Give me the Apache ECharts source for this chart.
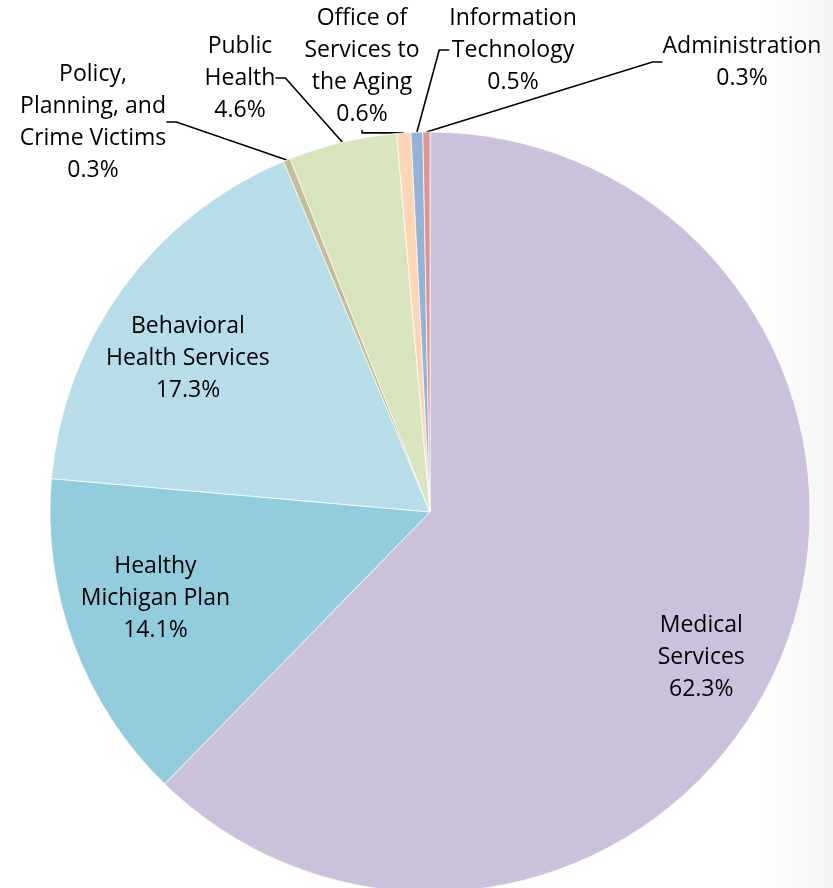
<!DOCTYPE html>
<html>
<head>
<meta charset="utf-8">
<script src="https://cdn.jsdelivr.net/npm/echarts@6/dist/echarts.min.js"></script>
<style>
  html, body { margin: 0; padding: 0; background: #fff; }
  #chart { width: 833px; height: 888px; }
</style>
</head>
<body>
<div id="chart"></div>
<script>
// 항목 이름 (시계 방향, 12시부터)
var names = [
  'Medical\nServices',
  'Healthy\nMichigan Plan',
  'Behavioral\nHealth Services',
  'Policy,\nPlanning, and\nCrime Victims',
  'Public\nHealth',
  'Office of\nServices to\nthe Aging',
  'Information\nTechnology',
  'Administration'
];
// 비율 (%)
var shares = [62.3, 14.1, 17.3, 0.3, 4.6, 0.6, 0.5, 0.3];
// 색상
var colors = ['#ccc1da', '#93cddd', '#b7dee8', '#c4bd97', '#d7e4bd', '#fcd5b5', '#95b3d7', '#d99694'];
// 바깥 라벨 위치 (작은 조각만, 라벨 중심)
var outerLabelPos = {
  3: [93, 122],
  4: [240, 78],
  5: [362, 66],
  6: [513, 50],
  7: [742, 62]
};
// 안쪽 라벨 미세 이동
var innerLabelShift = {
  0: [-2, 34],
  1: [2, -16],
  2: [-4, 21]
};

var chart = echarts.init(document.getElementById('chart'));

var fontFamily = '"Open Sans", sans-serif';

function labelText(p) {
  return p.name + '\n' + p.value.toFixed(1) + '%';
}

var option = {
  backgroundColor: '#ffffff',
  animation: false,
  graphic: [{
    type: 'rect',
    right: 0,
    top: 0,
    z: -10,
    shape: { width: 70, height: 888 },
    style: {
      fill: new echarts.graphic.LinearGradient(0, 0, 1, 0, [
        { offset: 0, color: 'rgba(235,235,235,0)' },
        { offset: 1, color: 'rgba(235,235,235,0.55)' }
      ])
    },
    silent: true
  }],
  series: [{
    // 본 파이 + 바깥 라벨
    type: 'pie',
    center: [430, 512],
    radius: [0, 380],
    startAngle: 90,
    clockwise: true,
    avoidLabelOverlap: false,
    itemStyle: { borderColor: 'rgba(255,255,255,0.7)', borderWidth: 1 },
    label: {
      show: true,
      position: 'outside',
      formatter: labelText,
      fontFamily: fontFamily,
      fontSize: 23,
      lineHeight: 32,
      color: '#000',
      align: 'center'
    },
    labelLine: {
      show: true,
      length: 10,
      length2: 10,
      lineStyle: { color: '#000', width: 1.6 }
    },
    labelLayout: function (params) {
      var pos = outerLabelPos[params.dataIndex];
      if (!pos) return {};
      return { x: pos[0], y: pos[1], align: 'center', verticalAlign: 'middle' };
    },
    data: names.map(function (n, i) {
      var d = { name: n, value: shares[i], itemStyle: { color: colors[i] } };
      if (!outerLabelPos[i]) {
        d.label = { show: false };
        d.labelLine = { show: false };
      }
      return d;
    })
  }, {
    // 큰 조각 안쪽 라벨용 투명 링
    type: 'pie',
    center: [430, 512],
    radius: [204, 380],
    startAngle: 90,
    clockwise: true,
    silent: true,
    itemStyle: { color: 'transparent' },
    label: {
      show: true,
      position: 'inside',
      formatter: labelText,
      fontFamily: fontFamily,
      fontSize: 23,
      lineHeight: 32,
      color: '#000'
    },
    labelLine: { show: false },
    labelLayout: function (params) {
      var s = innerLabelShift[params.dataIndex];
      if (!s) return {};
      return { dx: s[0], dy: s[1] };
    },
    data: names.map(function (n, i) {
      var d = { name: n, value: shares[i], itemStyle: { color: 'transparent', borderWidth: 0 } };
      if (outerLabelPos[i]) d.label = { show: false };
      return d;
    })
  }]
};

chart.setOption(option);
</script>
</body>
</html>
